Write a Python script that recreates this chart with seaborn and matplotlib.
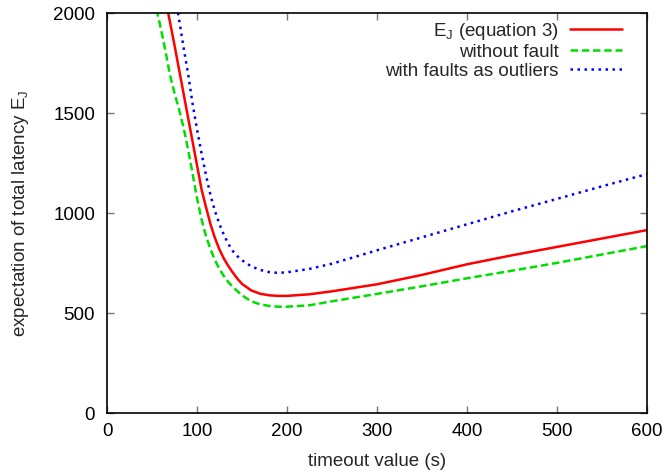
import pandas as pd
import matplotlib
matplotlib.use("Agg")
import matplotlib.pyplot as plt
import seaborn as sns

# -------------------------------
# data
# -------------------------------
timeout = [55, 60, 65, 70, 75, 80, 85, 90, 95, 100, 105, 110, 115, 120, 125, 130,
           135, 140, 145, 150, 160, 170, 180, 190, 200, 225, 250, 300, 350, 400,
           450, 500, 550, 600]

ej_eq3 = [2300, 2185, 2070, 1955, 1840, 1720, 1600, 1480, 1360, 1240, 1120, 1030,
          945, 875, 818, 772, 735, 702, 672, 647, 615, 598, 590, 587, 587, 595,
          610, 645, 692, 745, 790, 832, 874, 916]

without_fault = [2020, 1920, 1810, 1690, 1600, 1520, 1430, 1320, 1200, 1075, 970,
                 885, 820, 765, 720, 685, 655, 630, 610, 590, 560, 545, 537, 533,
                 533, 540, 560, 597, 635, 675, 713, 752, 794, 836]

with_outliers = [2700, 2550, 2400, 2250, 2110, 1970, 1830, 1700, 1550, 1420, 1300,
                 1190, 1090, 1010, 945, 890, 845, 810, 785, 765, 735, 717, 706,
                 702, 705, 722, 748, 815, 880, 945, 1010, 1072, 1135, 1196]

labels = [r"E$_\mathregular{J}$ (equation 3)", "without fault", "with faults as outliers"]

df = pd.DataFrame({"timeout": timeout, "ej": ej_eq3,
                   "nofault": without_fault, "outliers": with_outliers})

sns.set_theme(style="ticks")
plt.rcParams["font.family"] = ["Liberation Sans", "DejaVu Sans"]
plt.rcParams["font.size"] = 13.5

fig = plt.figure(figsize=(6.66, 4.72), dpi=100)
ax = fig.add_axes([0.1607, 0.1244, 0.8108, 0.8474])

sns.lineplot(data=df, x="timeout", y="ej", ax=ax, color="#ff0000", lw=1.8,
             label=labels[0])
sns.lineplot(data=df, x="timeout", y="nofault", ax=ax, color="#00dd00", lw=1.8,
             label=labels[1])
sns.lineplot(data=df, x="timeout", y="outliers", ax=ax, color="#0000ff", lw=1.8,
             label=labels[2])
ax.lines[1].set_dashes([3, 1.5])
ax.lines[2].set_dashes([1, 1.8])

ax.set_xlim(0, 600)
ax.set_ylim(0, 2000)
ax.set_xticks([0, 100, 200, 300, 400, 500, 600])
ax.set_yticks([0, 500, 1000, 1500, 2000])
ax.tick_params(direction="in", length=5, width=1, color="#777777",
               top=True, right=True, labelsize=13.5, labelcolor="black")
ax.tick_params(axis="y", pad=8.6)
ax.tick_params(axis="x", pad=7)
for s in ax.spines.values():
    s.set_visible(True)
    s.set_color("black")
    s.set_linewidth(1.2)

ax.set_xlabel("timeout value (s)", fontsize=13.5, labelpad=9)
ax.set_ylabel(r"expectation of total latency E$_\mathregular{J}$", fontsize=13.5,
              labelpad=16)

# markerfirst=False puts the sample line after the label, labels right-aligned
leg = ax.legend(loc="upper right", frameon=False, markerfirst=False, fontsize=13.5,
                handlelength=2.8, handletextpad=0.6, labelspacing=0.1,
                borderaxespad=0.0, bbox_to_anchor=(0.968, 1.0))

fig.savefig("out.png", dpi=100)
